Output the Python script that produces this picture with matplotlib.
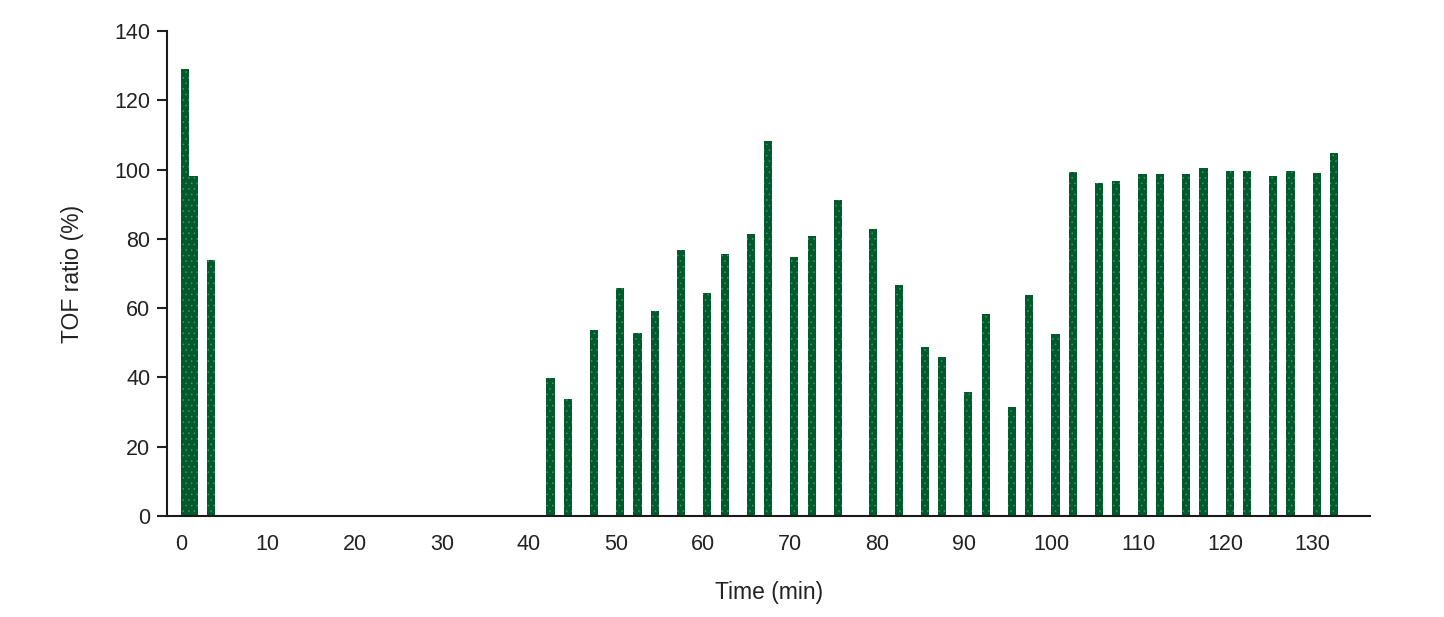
import matplotlib
matplotlib.use("Agg")
import matplotlib.pyplot as plt

plt.rcParams['font.family'] = ['Liberation Sans', 'DejaVu Sans']
plt.rcParams['hatch.linewidth'] = 0.4

times = [0, 1, 3, 42, 44, 47, 50, 52, 54, 57, 60, 62, 65, 67, 70, 72, 75, 79,
         82, 85, 87, 90, 92, 95, 97, 100, 102, 105, 107, 110, 112, 115, 117,
         120, 122, 125, 127, 130, 132]
tof_ratio = [129.0, 98.1, 74.0, 39.7, 33.8, 53.8, 65.9, 52.7, 59.3, 76.8, 64.4,
             75.6, 81.3, 108.2, 74.8, 80.8, 91.3, 82.9, 66.8, 48.8, 46.0, 35.9,
             58.3, 31.6, 63.8, 52.6, 99.3, 96.2, 96.7, 98.8, 98.8, 98.8, 100.5,
             99.6, 99.6, 98.1, 99.6, 99.0, 104.8]
x_ticks = list(range(0, 140, 10))
y_ticks = list(range(0, 160, 20))

fig = plt.figure(figsize=(14.44, 6.17), dpi=100)
ax = fig.add_axes([0.1157, 0.1637, 0.8331, 0.7861])

ax.bar(times, tof_ratio, width=0.93, align='edge', color='#005a2c',
       edgecolor='#3f9a5c', linewidth=0, hatch='...')

ax.set_xlim(-1.57, 136.6)
ax.set_ylim(0, 140)
ax.set_xticks(x_ticks)
ax.set_yticks(y_ticks)
ax.tick_params(axis='x', length=0, pad=13, labelsize=15.5, colors='#222222')
ax.tick_params(axis='y', length=7, width=1.5, pad=5, labelsize=15.5,
               colors='#222222')
ax.spines['top'].set_visible(False)
ax.spines['right'].set_visible(False)
for s in ('left', 'bottom'):
    ax.spines[s].set_linewidth(1.5)
    ax.spines[s].set_color('#1a1a1a')

ax.set_xlabel('Time (min)', fontsize=16.5, labelpad=19, color='#222222')
ax.set_ylabel('TOF ratio (%)', fontsize=16.5, labelpad=22, color='#222222')

fig.savefig('out.png', dpi=100)
